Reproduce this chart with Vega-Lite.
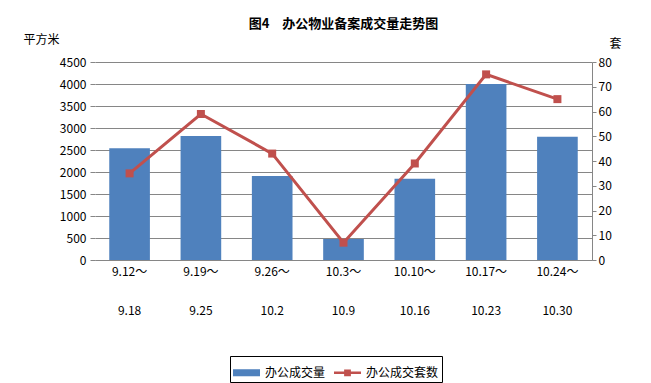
{
  "$schema": "https://vega.github.io/schema/vega-lite/v6.json",
  "width": 497,
  "height": 198,
  "autosize": {"type": "none"},
  "padding": {"left": 95, "top": 62, "right": 59, "bottom": 123},
  "background": "white",
  "config": {
    "font": "Noto Sans CJK SC",
    "view": {"stroke": null},
    "axis": {"labelFont": "Noto Sans CJK SC", "labelFontSize": 12, "labelColor": "#000", "titleFont": "Noto Sans CJK SC", "titleFontSize": 12, "titleFontWeight": "normal", "titleColor": "#000"}
  },
  "title": {"text": "图4　办公物业备案成交量走势图", "fontSize": 13, "fontWeight": "bold", "font": "Noto Sans CJK SC", "color": "#000", "offset": 2},
  "data": {"values": [
    {"week": "9.12～\n9.18", "area": 2540, "count": 35},
    {"week": "9.19～\n9.25", "area": 2820, "count": 59},
    {"week": "9.26～\n10.2", "area": 1910, "count": 43},
    {"week": "10.3～\n10.9", "area": 480, "count": 7},
    {"week": "10.10～\n10.16", "area": 1845, "count": 39},
    {"week": "10.17～\n10.23", "area": 4000, "count": 75},
    {"week": "10.24～\n10.30", "area": 2800, "count": 65}
  ]},
  "encoding": {
    "x": {"field": "week", "type": "nominal", "sort": null,
      "scale": {"paddingInner": 0.43, "paddingOuter": 0.2},
      "axis": {"title": null, "labelAngle": 0, "labelExpr": "split(datum.label, '\\n')", "labelLineHeight": 39, "labelPadding": 6, "ticks": false, "domainColor": "#868686"}}
  },
  "layer": [
    {
      "mark": {"type": "bar", "color": "#4F81BD"},
      "encoding": {
        "y": {"field": "area", "type": "quantitative", "scale": {"domain": [0, 4500]},
          "axis": {"title": "平方米", "format": "d", "titleAngle": 0, "titleX": -72, "titleY": -16, "titleAlign": "left", "titleBaseline": "bottom", "values": [0,500,1000,1500,2000,2500,3000,3500,4000,4500], "grid": true, "gridColor": "#868686", "domain": false, "tickColor": "#868686", "tickSize": 5, "labelPadding": 4}},
        "color": {"datum": "办公成交量", "type": "nominal",
          "scale": {"domain": ["办公成交量", "办公成交套数"], "range": ["#4F81BD", "#C0504D"]},
          "legend": {"title": null, "orient": "none", "legendX": 135, "legendY": 294, "direction": "horizontal",
            "strokeColor": "#000", "padding": 3, "labelFontSize": 12, "labelFont": "Noto Sans CJK SC", "labelColor": "#000", "symbolSize": 729, "columnPadding": 8, "labelOffset": 5,
            "encode": {"symbols": {"update": {
              "shape": {"signal": "datum.value === '办公成交套数' ? 'M-1,-0.09H-0.25V-0.25H0.25V-0.09H1V0.09H0.25V0.25H-0.25V0.09H-1Z' : 'M-1,-0.26H1V0.26H-1Z'"},
              "fill": {"signal": "datum.value === '办公成交套数' ? '#C0504D' : '#4F81BD'"},
              "stroke": {"value": null},
              "strokeWidth": {"value": 0}
            }}}}}
      }
    },
    {
      "mark": {"type": "line", "color": "#C0504D", "strokeWidth": 3, "point": {"shape": "square", "size": 64, "filled": true, "color": "#C0504D"}},
      "encoding": {
        "y": {"field": "count", "type": "quantitative", "scale": {"domain": [0, 80]},
          "axis": {"orient": "right", "title": "套", "titleAngle": 0, "titleX": 23, "titleY": -12, "titleAlign": "center", "titleBaseline": "bottom", "values": [0,10,20,30,40,50,60,70,80], "grid": false, "domainColor": "#868686", "tickColor": "#868686", "tickSize": 4, "labelPadding": 2}},
        "color": {"datum": "办公成交套数", "type": "nominal"}
      }
    }
  ],
  "resolve": {"scale": {"y": "independent"}}
}
